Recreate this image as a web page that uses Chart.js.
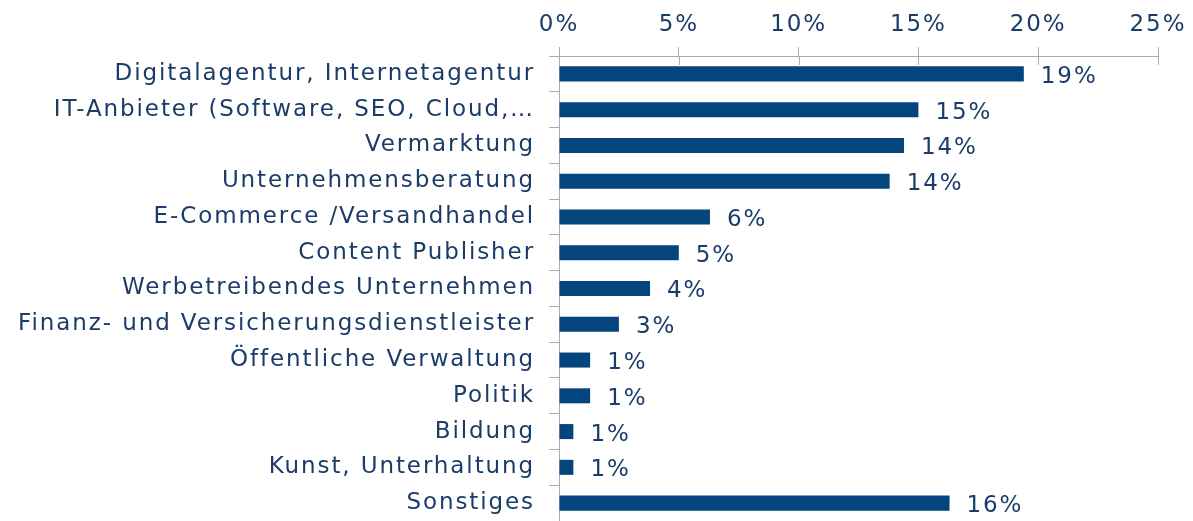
<!DOCTYPE html>
<html><head><meta charset="utf-8">
<script src="https://cdn.jsdelivr.net/npm/chart.js@4/dist/chart.umd.min.js"></script>
<style>html,body{margin:0;padding:0;background:#fff}#wrap{width:1193px;height:521px}</style>
</head><body><div id="wrap"><canvas id="c" width="1193" height="521"></canvas></div>
<script>
const categories = ["Digitalagentur, Internetagentur","IT-Anbieter (Software, SEO, Cloud,…","Vermarktung","Unternehmensberatung","E-Commerce /Versandhandel","Content Publisher","Werbetreibendes Unternehmen","Finanz- und Versicherungsdienstleister","Öffentliche Verwaltung","Politik","Bildung","Kunst, Unterhaltung","Sonstiges"];
const values = [19.4, 15.0, 14.4, 13.8, 6.3, 5.0, 3.8, 2.5, 1.3, 1.3, 0.6, 0.6, 16.3];
const valueLabels = ["19%","15%","14%","14%","6%","5%","4%","3%","1%","1%","1%","1%","16%"];
const xTicks = [0,5,10,15,20,25];

const TXT = '#1A3C69', BAR = '#03457C', AX = '#A6ADBD';
const FONT = 'DejaVu Sans';
const FSIZE = 23;
const LS = '1.9px';

const spacingPlugin = {
  id: 'spacing',
  beforeLayout(chart) { chart.ctx.letterSpacing = LS; },
  beforeDraw(chart) { chart.ctx.letterSpacing = LS; }
};

const labelPlugin = {
  id: 'vals',
  afterDatasetsDraw(chart) {
    const ctx = chart.ctx;
    const meta = chart.getDatasetMeta(0);
    ctx.save();
    ctx.letterSpacing = LS;
    ctx.font = FSIZE + 'px "' + FONT + '"';
    ctx.fillStyle = TXT;
    ctx.textBaseline = 'middle';
    ctx.textAlign = 'left';
    meta.data.forEach((el, i) => {
      ctx.fillText(valueLabels[i], el.x + 17, el.y + 3);
    });
    const xs = chart.scales.x;
    ctx.strokeStyle = AX; ctx.lineWidth = 1;
    xTicks.forEach(v => {
      const px = Math.round(xs.getPixelForValue(v)) + 0.5;
      ctx.beginPath(); ctx.moveTo(px, xs.bottom); ctx.lineTo(px, xs.bottom + 9); ctx.stroke();
    });
    ctx.restore();
  }
};

new Chart(document.getElementById('c'), {
  type: 'bar',
  data: { labels: categories, datasets: [{ data: values, backgroundColor: BAR, borderWidth: 0, barPercentage: 0.42, categoryPercentage: 1 }] },
  options: {
    indexAxis: 'y', responsive: false, animation: false,
    layout: { padding: { left: 0, right: 35, top: 0, bottom: 0 } },
    plugins: { legend: { display: false }, tooltip: { enabled: false } },
    scales: {
      x: {
        position: 'top', min: 0, max: 25,
        afterBuildTicks(s) { s.ticks = xTicks.map(v => ({ value: v })); },
        afterFit(s) { s.height = 56; s.paddingLeft = 0; s.paddingRight = 0; },
        grid: { drawOnChartArea: false, drawTicks: true, tickLength: 9, color: AX },
        border: { color: AX, width: 1 },
        ticks: { color: TXT, font: { family: FONT, size: FSIZE }, padding: 8, callback: v => v + '%', maxRotation: 0 }
      },
      y: {
        afterFit(s) { s.width = 559; s.paddingTop = 0; s.paddingBottom = 0; },
        grid: { drawOnChartArea: false, drawTicks: true, tickLength: 10, color: AX, offset: true },
        border: { color: AX, width: 1 },
        ticks: { color: TXT, font: { family: FONT, size: FSIZE }, padding: 14, autoSkip: false }
      }
    }
  },
  plugins: [spacingPlugin, labelPlugin]
});
</script></body></html>
